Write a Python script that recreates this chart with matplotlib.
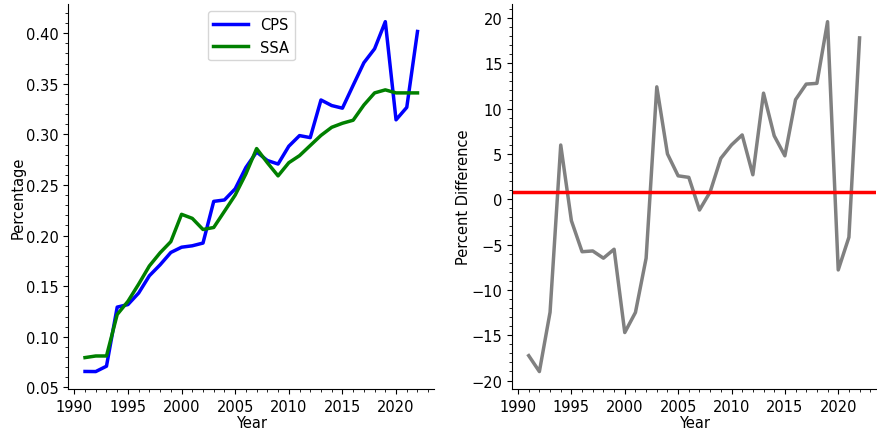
import numpy as np
import matplotlib.pyplot as plt

years = np.arange(1991, 2023)

# share of population, two sources
cps = [0.0657, 0.0656, 0.0709, 0.1293, 0.1318, 0.1432, 0.1603, 0.1711, 0.1833,
       0.1885, 0.1899, 0.1926, 0.2338, 0.2352, 0.2462, 0.2673, 0.2826, 0.2742,
       0.2707, 0.2883, 0.2988, 0.2968, 0.3340, 0.3285, 0.3259, 0.3485, 0.3708,
       0.3846, 0.4114, 0.3144, 0.3267, 0.4017]
ssa = [0.0794, 0.0810, 0.0810, 0.1220, 0.1350, 0.1520, 0.1700, 0.1830, 0.1940,
       0.2210, 0.2170, 0.2060, 0.2080, 0.2240, 0.2400, 0.2610, 0.2860, 0.2720,
       0.2590, 0.2720, 0.2790, 0.2890, 0.2990, 0.3070, 0.3110, 0.3140, 0.3290,
       0.3410, 0.3440, 0.3410, 0.3410, 0.3410]

cps = np.array(cps)
ssa = np.array(ssa)
pct_diff = (cps - ssa) / ssa * 100

plt.rcParams['font.size'] = 10.5

fig = plt.figure(figsize=(8.77, 4.31), dpi=100)
ax1 = fig.add_axes([0.078, 0.095, 0.417, 0.893])
ax2 = fig.add_axes([0.584, 0.095, 0.415, 0.893])

ax1.plot(years, cps, color='blue', lw=2.5, label='CPS')
ax1.plot(years, ssa, color='green', lw=2.5, label='SSA')
ax1.set_xlabel('Year', labelpad=1)
ax1.set_ylabel('Percentage', labelpad=0)
ax1.legend(loc='upper center', handlelength=2.4)

ax2.plot(years, pct_diff, color='gray', lw=2.5)
ax2.axhline(pct_diff.mean(), color='red', lw=2.5)
ax2.set_xlabel('Year', labelpad=1)
ax2.set_ylabel('Percent Difference', labelpad=0)

for ax in (ax1, ax2):
    ax.spines['top'].set_visible(False)
    ax.spines['right'].set_visible(False)
    ax.minorticks_on()

fig.savefig('out.png', dpi=100)
